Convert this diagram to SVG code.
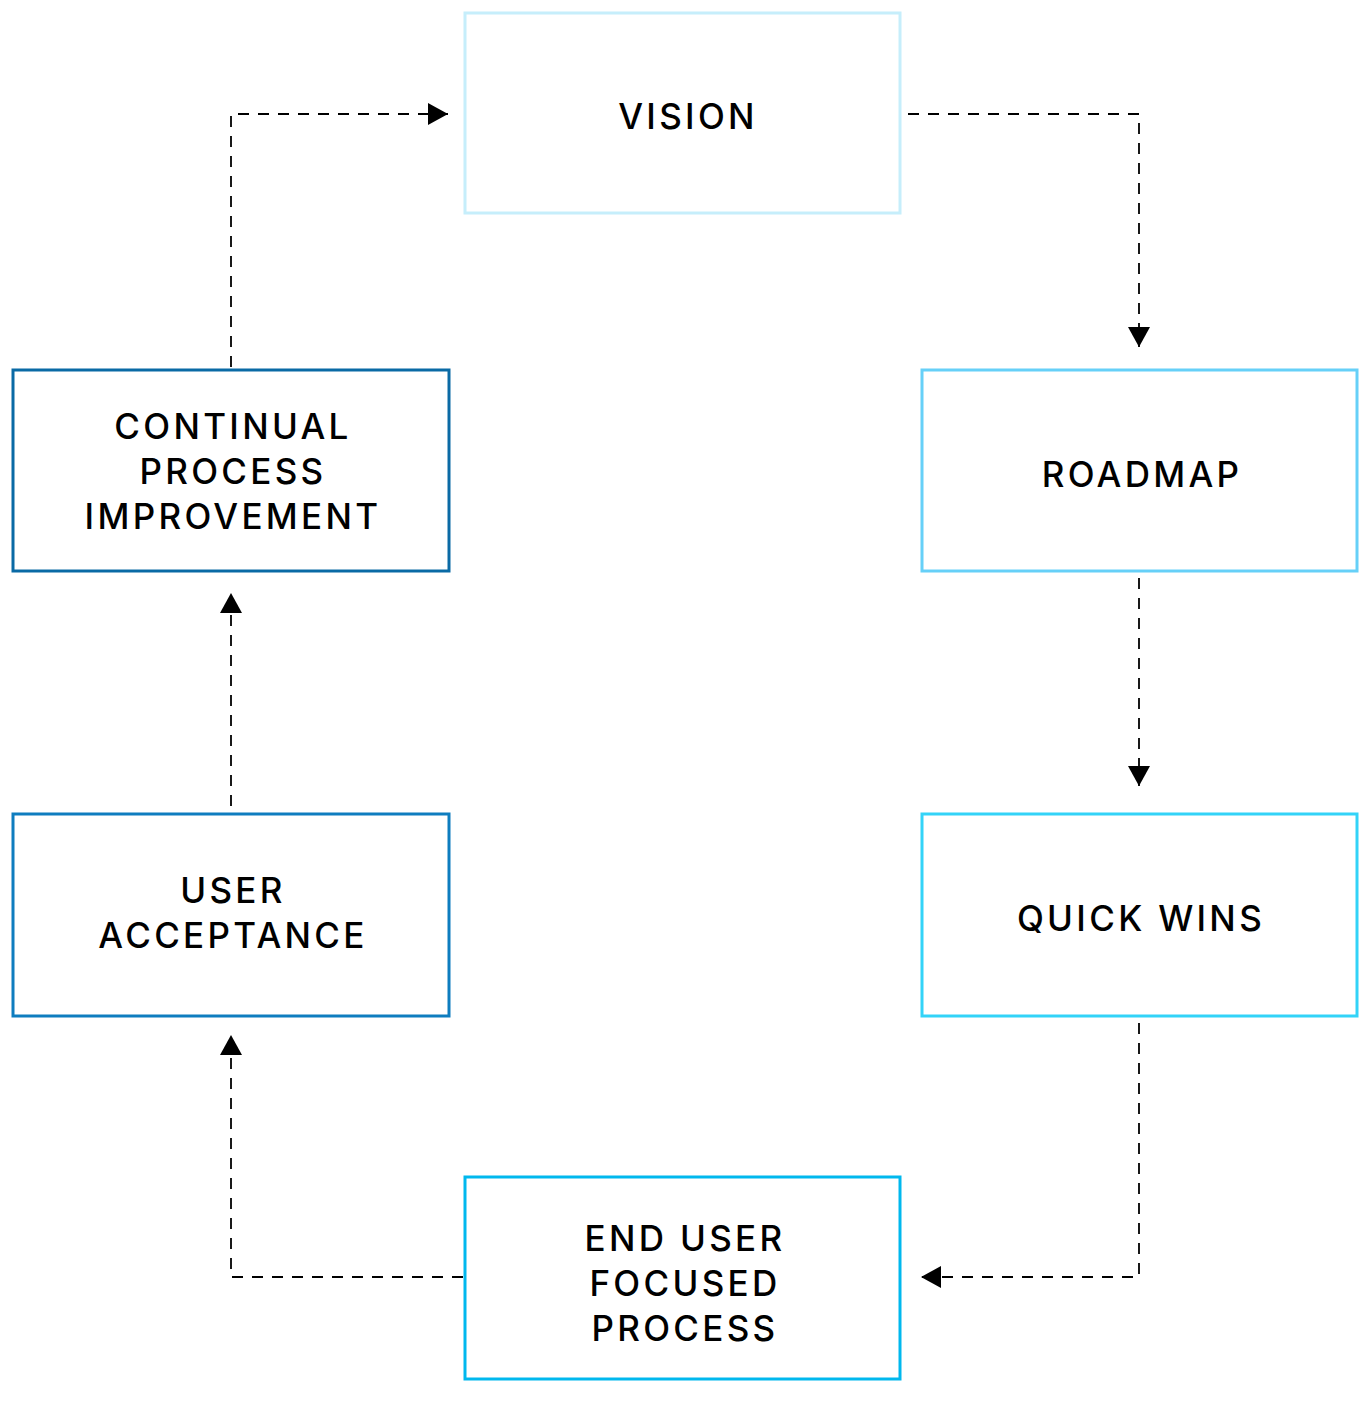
<svg xmlns="http://www.w3.org/2000/svg" width="1370" height="1401" viewBox="0 0 1370 1401">
<style>
  .box { fill: #ffffff; stroke-width: 3; }
  .lbl { font-family: Inter, "Liberation Sans", sans-serif; font-weight: 500; font-size: 35px; fill: #000; text-anchor: middle; letter-spacing: 3.3px; }
  .conn { fill: none; stroke: #000; stroke-width: 1.8; stroke-dasharray: 11 9; }
</style>
<defs>
  <marker id="arr" viewBox="0 0 20 22" refX="20" refY="11" markerWidth="20" markerHeight="22" markerUnits="userSpaceOnUse" orient="auto">
    <path d="M0,0 L20,11 L0,22 Z" fill="#000"/>
  </marker>
</defs>
<rect width="1370" height="1401" fill="#ffffff"/>
<g id="connectors">
  <path class="conn" d="M231,367 V114 H448" marker-end="url(#arr)"/>
  <path class="conn" d="M908,114 H1139 V347" marker-end="url(#arr)"/>
  <path class="conn" d="M1139,578 V786" marker-end="url(#arr)"/>
  <path class="conn" d="M1139,1023 V1277 H921" marker-end="url(#arr)"/>
  <path class="conn" d="M463,1277 H231 V1035" marker-end="url(#arr)"/>
  <path class="conn" d="M231,806 V593" marker-end="url(#arr)"/>
</g>
<g id="vision">
  <rect class="box" x="465" y="13" width="435" height="200" stroke="#c6eefb"/>
  <text class="lbl" x="688" y="129">VISION</text>
</g>
<g id="roadmap">
  <rect class="box" x="922" y="370" width="435" height="201" stroke="#66d0f8"/>
  <text class="lbl" x="1142" y="487">ROADMAP</text>
</g>
<g id="quick-wins">
  <rect class="box" x="922" y="814" width="435" height="202" stroke="#33d3f8"/>
  <text class="lbl" x="1141" y="931">QUICK WINS</text>
</g>
<g id="end-user">
  <rect class="box" x="465" y="1177" width="435" height="202" stroke="#00b8ee"/>
  <text class="lbl" x="685" y="1251">END USER</text>
  <text class="lbl" x="685" y="1296">FOCUSED</text>
  <text class="lbl" x="685" y="1341">PROCESS</text>
</g>
<g id="user-acceptance">
  <rect class="box" x="13" y="814" width="436" height="202" stroke="#0e7dbf"/>
  <text class="lbl" x="233" y="903">USER</text>
  <text class="lbl" x="233" y="948">ACCEPTANCE</text>
</g>
<g id="continual">
  <rect class="box" x="13" y="370" width="436" height="201" stroke="#0a6aa5"/>
  <text class="lbl" x="233" y="439">CONTINUAL</text>
  <text class="lbl" x="233" y="484">PROCESS</text>
  <text class="lbl" x="233" y="529">IMPROVEMENT</text>
</g>
</svg>
